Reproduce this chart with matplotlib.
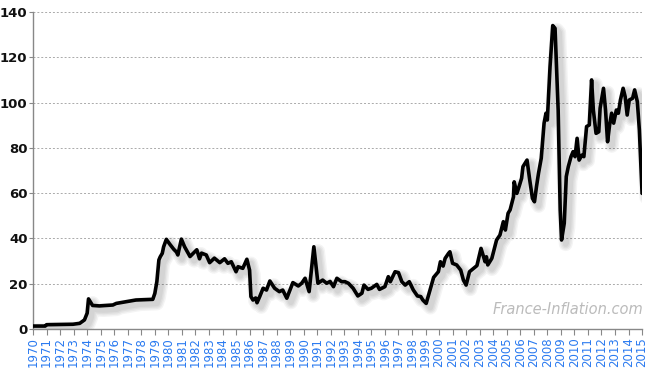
import matplotlib
matplotlib.use("Agg")
import matplotlib.pyplot as plt
import matplotlib.patheffects as pe

# prix du baril (USD)
years = [1970.0, 1970.9, 1971.0, 1972.95, 1973.45, 1973.8, 1974.0, 1974.1, 1974.4, 1974.9,
         1975.9, 1976.15, 1976.9, 1977.6, 1978.85, 1979.0, 1979.15, 1979.3, 1979.4, 1979.55,
         1979.65, 1979.85, 1980.1, 1980.4, 1980.6, 1980.7, 1980.96, 1981.2, 1981.6, 1982.1,
         1982.3, 1982.45, 1982.8, 1983.05, 1983.4, 1983.8, 1984.15, 1984.4, 1984.65, 1985.0,
         1985.15, 1985.5, 1985.8, 1986.0, 1986.1, 1986.25, 1986.45, 1986.55, 1986.75, 1987.0,
         1987.25, 1987.5, 1987.85, 1988.2, 1988.45, 1988.75, 1989.2, 1989.6, 1989.85, 1990.1,
         1990.4, 1990.75, 1991.05, 1991.4, 1991.7, 1991.95, 1992.2, 1992.45, 1992.8, 1993.05,
         1993.3, 1993.65, 1994.0, 1994.3, 1994.45, 1994.75, 1995.0, 1995.4, 1995.6, 1996.0,
         1996.25, 1996.4, 1996.75, 1997.0, 1997.25, 1997.5, 1997.8, 1998.1, 1998.4, 1998.65,
         1998.8, 1999.05, 1999.3, 1999.6, 1999.95, 2000.1, 2000.3, 2000.45, 2000.7, 2000.8,
         2001.0, 2001.3, 2001.6, 2001.8, 2002.0, 2002.25, 2002.55, 2002.8, 2003.1, 2003.4,
         2003.5, 2003.6, 2003.9, 2004.25, 2004.5, 2004.75, 2004.9, 2005.1, 2005.25, 2005.5,
         2005.55, 2005.75, 2005.95, 2006.1, 2006.2, 2006.5, 2006.7, 2006.9, 2007.05, 2007.2,
         2007.35, 2007.55, 2007.76, 2007.9, 2008.0, 2008.2, 2008.4, 2008.57, 2008.8, 2008.95,
         2009.05, 2009.25, 2009.4, 2009.55, 2009.75, 2009.9, 2010.05, 2010.2, 2010.35, 2010.55,
         2010.7, 2010.9, 2011.1, 2011.27, 2011.4, 2011.6, 2011.8, 2011.9, 2012.15, 2012.3,
         2012.45, 2012.6, 2012.75, 2012.9, 2013.1, 2013.25, 2013.4, 2013.6, 2013.75, 2013.9,
         2014.05, 2014.3, 2014.45, 2014.65, 2014.8, 2015.0]
prices = [1.3, 1.3, 1.9, 2.1, 2.5, 4.0, 7.0, 13.3, 10.4, 10.2,
          10.6, 11.3, 12.1, 12.8, 13.1, 15.7, 20.9, 30.5, 31.9, 33.4,
          36.3, 39.6, 37.5, 35.2, 34.0, 32.7, 39.7, 36.3, 32.0, 35.0,
          31.0, 33.5, 32.7, 29.3, 31.3, 29.3, 31.0, 29.0, 29.7, 25.3,
          27.5, 26.8, 30.8, 26.0, 14.3, 12.8, 13.7, 11.6, 14.3, 18.0,
          17.2, 21.2, 18.0, 16.5, 17.2, 13.6, 20.5, 19.0, 20.2, 22.4,
          16.5, 36.3, 20.2, 21.6, 20.2, 21.0, 18.7, 22.4, 20.9, 20.9,
          20.2, 18.0, 14.6, 15.8, 19.4, 17.5, 18.0, 19.7, 17.5, 18.7,
          23.1, 20.9, 25.3, 24.9, 20.9, 19.4, 20.9, 17.2, 14.6, 14.3,
          12.8, 11.3, 16.5, 22.8, 25.3, 29.7, 27.8, 31.2, 33.4, 34.1,
          29.0, 28.3, 26.0, 21.6, 19.4, 25.3, 26.8, 28.0, 35.6, 29.7,
          31.9, 28.3, 31.2, 39.3, 41.5, 47.4, 43.7, 51.1, 52.6, 58.4,
          65.0, 59.9, 63.6, 66.6, 71.7, 74.6, 65.8, 57.7, 56.2, 62.9,
          68.8, 75.4, 90.9, 95.3, 92.3, 115.9, 134.0, 132.8, 96.7, 52.6,
          39.3, 46.7, 67.3, 71.7, 76.1, 78.3, 76.1, 84.2, 74.6, 76.8,
          76.1, 89.4, 90.1, 110.0, 96.7, 86.4, 87.1, 97.5, 106.3, 96.7,
          82.7, 90.1, 95.3, 90.9, 96.7, 95.3, 101.1, 106.3, 102.6, 94.5,
          101.1, 101.9, 105.6, 100.4, 87.9, 59.9]
tick_years = list(range(1970, 2016))
y_ticks = [0, 20, 40, 60, 80, 100, 120, 140]

fig = plt.figure(figsize=(6.5, 3.7), dpi=100)
ax = fig.add_axes([0.0508, 0.1108, 0.937, 0.8568])

# ombre floue sous la courbe
shadow = [pe.SimpleLineShadow(offset=(3, -3), shadow_color='#000000', alpha=0.045, linewidth=w)
          for w in (10, 8, 6, 4)]
ax.plot(years, prices, color='black', lw=2.6, solid_joinstyle='round', solid_capstyle='round',
        path_effects=shadow + [pe.Normal()], zorder=3)

ax.set_xlim(1970, 2015)
ax.set_ylim(0, 140)
ax.set_yticks(y_ticks)
ax.set_xticks(tick_years)
ax.set_xticklabels([str(y) for y in tick_years], rotation=90, color='#2a7af0', fontsize=8.5)
ax.set_yticklabels([str(v) for v in y_ticks], fontsize=9.5, fontweight='bold', color='#111111')
ax.tick_params(axis='x', length=4, color='#888888', pad=2)
ax.tick_params(axis='y', length=3, color='#888888', pad=1)
ax.yaxis.grid(True, linestyle=(0, (2, 2)), color='#aaaaaa', linewidth=0.7)
ax.set_axisbelow(True)
for s in ('top', 'right'):
    ax.spines[s].set_visible(False)
for s in ('left', 'bottom'):
    ax.spines[s].set_color('#888888')
    ax.spines[s].set_linewidth(1.0)

ax.text(0.878, 0.06, 'France-Inflation.com', transform=ax.transAxes, ha='center', va='center',
        fontsize=10.5, style='italic', color='#bbbbbb')

fig.savefig('out.png', dpi=100)
